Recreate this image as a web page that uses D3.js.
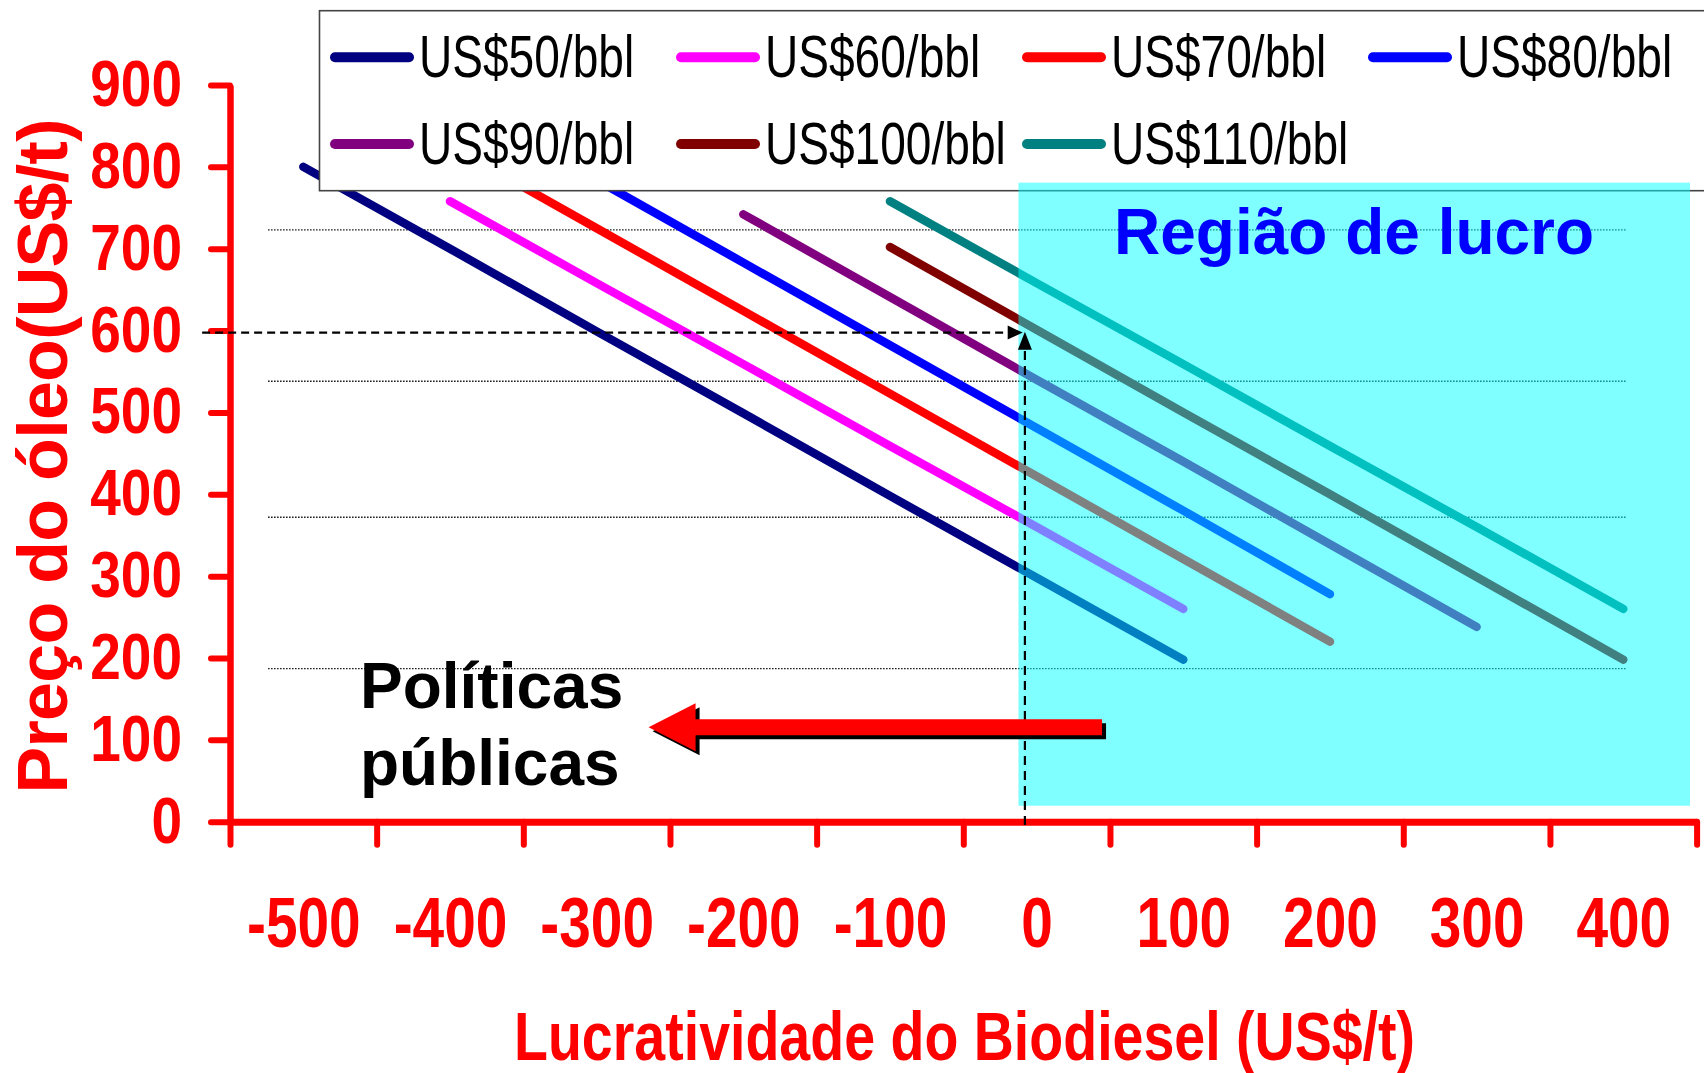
<!DOCTYPE html>
<html>
<head>
<meta charset="utf-8">
<script src="https://cdn.jsdelivr.net/npm/d3@7"></script>
<style>
  body { margin: 0; background: #ffffff; }
  svg { display: block; }
  text { font-family: "Liberation Sans", Arial, Helvetica, sans-serif; }
</style>
</head>
<body>
<svg id="chart" width="1704" height="1073"></svg>
<script>
// ---------------- DATA ----------------
const seriesNames  = ["US$50/bbl", "US$60/bbl", "US$70/bbl", "US$80/bbl", "US$90/bbl", "US$100/bbl", "US$110/bbl"];
const seriesColors = ["#000080", "#ff00ff", "#ff0000", "#0000ff", "#800080", "#800000", "#008080"];

// Lucratividade (x) and Preço do óleo (y) for each series
const x50  = [-500, -400, -300, -200, -100, 0, 100];
const y50  = [ 800,  700,  599,  499,  398, 298, 198];
const x60  = [-400, -300, -200, -100, 0, 100];
const y60  = [ 758,  658,  559,  459, 360, 260];
const x70  = [-400, -300, -200, -100, 0, 100, 200];
const y70  = [ 826,  725,  624,  523, 422, 321, 220];
const x80  = [-300, -200, -100, 0, 100, 200];
const y80  = [ 784,  683,  582, 481, 380, 278];
const x90  = [-200, -100, 0, 100, 200, 300];
const y90  = [ 742,  641, 540, 440, 339, 238];
const x100 = [-100, 0, 100, 200, 300, 400];
const y100 = [ 702, 601, 500, 400, 299, 198];
const x110 = [-100, 0, 100, 200, 300, 400];
const y110 = [ 758, 658, 559, 459, 360, 260];

const seriesX = [x50, x60, x70, x80, x90, x100, x110];
const seriesY = [y50, y60, y70, y80, y90, y100, y110];

const xTickLabels = [-500, -400, -300, -200, -100, 0, 100, 200, 300, 400];
const xTickMarks  = [-550, -450, -350, -250, -150, -50, 50, 150, 250, 350, 450];
const yTickValues = [0, 100, 200, 300, 400, 500, 600, 700, 800, 900];
const gridLevels  = [723, 538, 372, 187];          // dotted reference lines
const gridXRange  = [-524, 402];

const profitX = [-12.4, 445.5];                     // "Região de lucro" box
const profitY = [19.5, 780.7];
const refLineY = 597.5;                             // dashed 600 reference
const refLineXRange = [-569, -9.5];
const refLineX = -8;                                // dashed 0 reference
const refLineYRange = [-4, 598.6];
const policyArrowX = [-264.6, 44.6];                // tip, tail
const policyArrowY = 115.3;

const xTitle = "Lucratividade do Biodiesel (US$/t)";
const yTitle = "Preço do óleo(US$/t)";

// ---------------- SCALES ----------------
const svg = d3.select("#chart");
const x = d3.scaleLinear().domain([-550, 450]).range([230, 1696.6]);
const y = d3.scaleLinear().domain([0, 900]).range([821.7, 85]);
const fmt = d => String(d);   // plain hyphen-minus like the original

// ---------------- GRID ----------------
svg.append("g").selectAll("line").data(gridLevels).join("line")
  .attr("x1", x(gridXRange[0])).attr("x2", x(gridXRange[1]))
  .attr("y1", d => y(d)).attr("y2", d => y(d))
  .attr("stroke", "#000").attr("stroke-width", 1.4)
  .attr("stroke-dasharray", "1.4,1.6");

// ---------------- SERIES ----------------
const line = d3.line().x(d => x(d[0])).y(d => y(d[1]));
svg.append("g").selectAll("path").data(seriesNames).join("path")
  .attr("d", (d, i) => line(seriesX[i].map((v, j) => [v, seriesY[i][j]])))
  .attr("fill", "none")
  .attr("stroke", (d, i) => seriesColors[i])
  .attr("stroke-width", 8.5)
  .attr("stroke-linecap", "round")
  .attr("stroke-linejoin", "round");

// ---------------- LEGEND ----------------
const legend = svg.append("g");
legend.append("rect")
  .attr("x", 319.5).attr("y", 10.7).attr("width", 1420).attr("height", 180)
  .attr("fill", "#fff").attr("stroke", "#444").attr("stroke-width", 1.6);
const items = legend.selectAll("g.item").data(seriesNames).join("g")
  .attr("class", "item")
  .attr("transform", (d, i) => `translate(${335 + (i % 4) * 346},${57.3 + Math.floor(i / 4) * 86.7})`);
items.append("line")
  .attr("x1", 0).attr("x2", 74).attr("y1", 0).attr("y2", 0)
  .attr("stroke", (d, i) => seriesColors[i])
  .attr("stroke-width", 10).attr("stroke-linecap", "round");
items.append("text")
  .attr("transform", "translate(84,20) scale(0.785,1)")
  .attr("font-size", 58.7)
  .attr("fill", "#000")
  .text(d => d);

// ---------------- PROFIT REGION ----------------
svg.append("rect")
  .attr("x", x(profitX[0])).attr("width", x(profitX[1]) - x(profitX[0]))
  .attr("y", y(profitY[1])).attr("height", y(profitY[0]) - y(profitY[1]))
  .attr("fill", "#00ffff").attr("fill-opacity", 0.5);

svg.append("text")
  .attr("x", 1114).attr("y", 254)
  .attr("font-size", 64).attr("font-weight", "bold").attr("fill", "#0000ff")
  .text("Região de lucro");

// ---------------- AXES ----------------
const yAxis = svg.append("g").attr("transform", `translate(${x(-550)},0)`)
  .call(d3.axisLeft(y).tickValues(yTickValues).tickSize(19).tickSizeOuter(0).tickFormat(fmt));
yAxis.select(".domain").attr("stroke", "#ff0000").attr("stroke-width", 6.5);
yAxis.selectAll(".tick line").attr("stroke", "#ff0000").attr("stroke-width", 6).attr("stroke-linecap", "round");
yAxis.selectAll(".tick text")
  .attr("x", null).attr("dy", null)
  .attr("transform", "translate(-48,20.5) scale(0.86,1)")
  .attr("font-size", 64).attr("font-weight", "bold").attr("fill", "#ff0000")
  .attr("font-family", "Liberation Sans, Arial, sans-serif");

const xAxis = svg.append("g").attr("transform", `translate(0,${y(0)})`)
  .call(d3.axisBottom(x).tickValues(xTickMarks).tickSize(23).tickSizeOuter(0).tickFormat(""));
xAxis.select(".domain").attr("stroke", "#ff0000").attr("stroke-width", 7);
xAxis.selectAll(".tick line").attr("stroke", "#ff0000").attr("stroke-width", 6).attr("stroke-linecap", "round");

const xLabels = svg.append("g").attr("transform", `translate(0,${y(0)})`)
  .call(d3.axisBottom(x).tickValues(xTickLabels).tickSize(0).tickFormat(fmt));
xLabels.select(".domain").remove();
xLabels.selectAll(".tick text")
  .attr("y", null).attr("dy", null)
  .attr("transform", "translate(0,125) scale(0.80,1)")
  .attr("text-anchor", "middle")
  .attr("font-size", 71).attr("font-weight", "bold").attr("fill", "#ff0000")
  .attr("font-family", "Liberation Sans, Arial, sans-serif");

// Titles
svg.append("text")
  .attr("x", 964.5).attr("y", 1059.5)
  .attr("text-anchor", "middle")
  .attr("font-size", 68).attr("font-weight", "bold").attr("fill", "#ff0000")
  .attr("textLength", 901).attr("lengthAdjust", "spacingAndGlyphs")
  .text(xTitle);

svg.append("text")
  .attr("transform", "translate(67,456) rotate(-90)")
  .attr("text-anchor", "middle")
  .attr("font-size", 70).attr("font-weight", "bold").attr("fill", "#ff0000")
  .attr("textLength", 675).attr("lengthAdjust", "spacing")
  .text(yTitle);

// ---------------- DASHED REFERENCE ARROWS ----------------
svg.append("line")
  .attr("x1", x(refLineXRange[0])).attr("x2", x(refLineXRange[1]) - 12)
  .attr("y1", y(refLineY)).attr("y2", y(refLineY))
  .attr("stroke", "#000").attr("stroke-width", 2.2).attr("stroke-dasharray", "8,5");
svg.append("path")
  .attr("d", () => {
    const tx = x(refLineXRange[1]), ty = y(refLineY);
    return `M${tx},${ty}L${tx - 15},${ty - 7}L${tx - 15},${ty + 7}Z`;
  })
  .attr("fill", "#000");

svg.append("line")
  .attr("x1", x(refLineX)).attr("x2", x(refLineX))
  .attr("y1", y(refLineYRange[0])).attr("y2", y(refLineYRange[1]) + 14)
  .attr("stroke", "#000").attr("stroke-width", 2.2).attr("stroke-dasharray", "9,6");
svg.append("path")
  .attr("d", () => {
    const tx = x(refLineX), ty = y(refLineYRange[1]);
    return `M${tx},${ty}L${tx - 7},${ty + 18}L${tx + 7},${ty + 18}Z`;
  })
  .attr("fill", "#000");

// ---------------- POLICY ARROW ----------------
function arrowPath(dx, dy) {
  const tx = x(policyArrowX[0]) + dx, ex = x(policyArrowX[1]) + dx, cy = y(policyArrowY) + dy;
  const hb = tx + 47;
  return `M${tx},${cy}L${hb},${cy - 24}L${hb},${cy - 8}L${ex},${cy - 8}L${ex},${cy + 8}L${hb},${cy + 8}L${hb},${cy + 24}Z`;
}
svg.append("path").attr("d", arrowPath(4, 4)).attr("fill", "#000");
svg.append("path").attr("d", arrowPath(0, 0)).attr("fill", "#ff0000");

svg.append("text")
  .attr("x", 360).attr("y", 708.3)
  .attr("font-size", 64).attr("font-weight", "bold").attr("fill", "#000")
  .text("Políticas");
svg.append("text")
  .attr("x", 360).attr("y", 785)
  .attr("font-size", 64).attr("font-weight", "bold").attr("fill", "#000")
  .text("públicas");
</script>
</body>
</html>
